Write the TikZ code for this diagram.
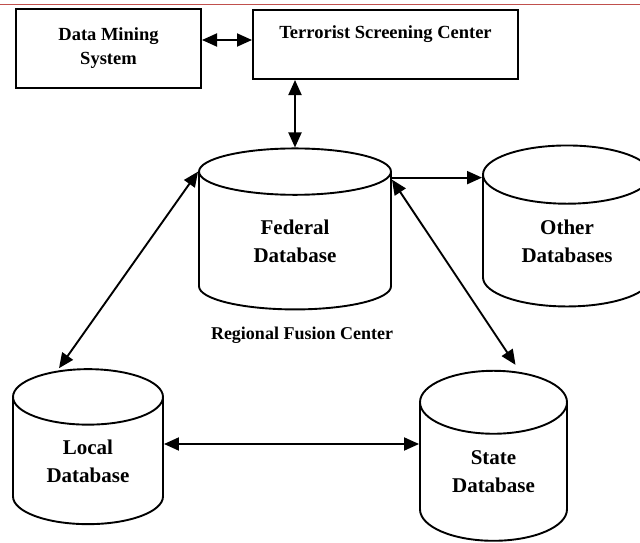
\documentclass[tikz,border=0pt]{standalone}
\usepackage{fontspec}
\setmainfont{Liberation Serif}
\usetikzlibrary{shapes.geometric,arrows.meta}
\definecolor{hdrred}{RGB}{192,80,77}
\begin{document}
\begin{tikzpicture}[x=1pt,y=-1pt,
  box/.style={draw,line width=2pt,inner sep=0pt,align=center,
    font=\fontsize{18.5}{24}\selectfont\bfseries},
  db/.style={draw,line width=1.9pt,cylinder,shape border rotate=90,inner sep=0pt,
    align=center,font=\fontsize{21}{28}\selectfont\bfseries},
  link/.style={line width=1.9pt,{Triangle[length=15pt,width=13pt]}-{Triangle[length=15pt,width=13pt]}},
  onelink/.style={line width=1.9pt,-{Triangle[length=15pt,width=13pt]}}]
\useasboundingbox (0,0) rectangle (640,543);
\draw[hdrred,line width=1pt] (0,5) -- (640,5); %header rule

\node[box,minimum width=185pt,minimum height=79pt] (dms) at (108.5,48.5) {Data Mining\\System};
\node[box,minimum width=265pt,minimum height=69pt] (tsc) at (385.5,44.5) {Terrorist Screening Center\\\mbox{}};

\node[db,minimum width=192pt,minimum height=161pt,aspect=0.56] (fed) at (295,241) {Federal\\Database};
\node[db,minimum width=168pt,minimum height=161pt,aspect=0.64] (other) at (567,241) {Other\\Databases};
\node[db,minimum width=150pt,minimum height=155pt,aspect=0.67] (local) at (88,461) {Local\\Database};
\node[db,minimum width=147pt,minimum height=170pt,aspect=0.76] (state) at (493.5,472) {State\\Database};

\node[font=\fontsize{18}{22}\selectfont\bfseries] (rfc) at (302,335) {Regional Fusion Center};

\draw[link] (dms.east |- 0,40) -- (tsc.west |- 0,40);
\draw[link] (fed.top) -- (fed.top |- tsc.south);
\draw[onelink] ([yshift=-6pt]fed.after top) -- ([yshift=-6pt]fed.after top -| other.west);
\draw[link] (fed.before top) -- ([xshift=-29pt]local.top);
\draw[link] ([yshift=-8pt]fed.after top) -- ([xshift=22pt,yshift=5pt]state.top);
\draw[link] ([yshift=17pt]local.east) -- ([yshift=17pt]local.east -| state.west);
\end{tikzpicture}
\end{document}
